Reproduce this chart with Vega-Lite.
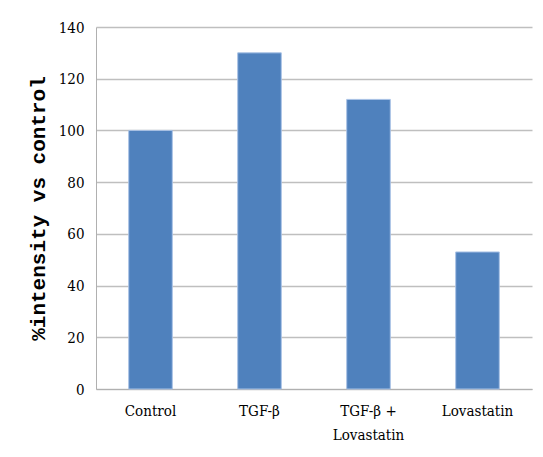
{
  "$schema": "https://vega.github.io/schema/vega-lite/v6.json",
  "width": 436,
  "height": 362,
  "autosize": {"type": "none"},
  "padding": {"left": 96, "top": 27, "right": 11, "bottom": 68},
  "background": "white",
  "data": {
    "values": [
      {"group": "Control", "value": 100},
      {"group": "TGF-β", "value": 130},
      {"group": "TGF-β + Lovastatin", "value": 112},
      {"group": "Lovastatin", "value": 53}
    ]
  },
  "mark": {"type": "bar", "color": "#4f81bd", "stroke": "#a9c2e6", "strokeWidth": 1},
  "encoding": {
    "x": {
      "field": "group",
      "type": "nominal",
      "sort": null,
      "scale": {"paddingInner": 0.6, "paddingOuter": 0.3},
      "axis": {
        "title": null,
        "labelAngle": 0,
        "ticks": false,
        "domainColor": "#b0b0b0",
        "labelFont": "DejaVu Serif Condensed, Liberation Serif, serif",
        "labelFontSize": 15,
        "labelColor": "#000000",
        "labelPadding": 14,
        "labelLineHeight": 24,
        "labelExpr": "datum.value == 'TGF-β + Lovastatin' ? ['TGF-β +', 'Lovastatin'] : datum.value"
      }
    },
    "y": {
      "field": "value",
      "type": "quantitative",
      "scale": {"domain": [0, 140], "nice": false},
      "axis": {
        "values": [0, 20, 40, 60, 80, 100, 120, 140],
        "title": "%intensity vs control",
        "titleFont": "Liberation Mono",
        "titleFontWeight": "bold",
        "titleFontSize": 21,
        "titleColor": "#000000",
        "titlePadding": 10,
        "ticks": false,
        "domainColor": "#b0b0b0",
        "gridColor": "#bfbfbf",
        "gridWidth": 1.5,
        "labelFont": "DejaVu Serif Condensed, Liberation Serif, serif",
        "labelFontSize": 15,
        "labelColor": "#000000",
        "labelPadding": 12
      }
    }
  },
  "config": {"view": {"stroke": null}}
}
